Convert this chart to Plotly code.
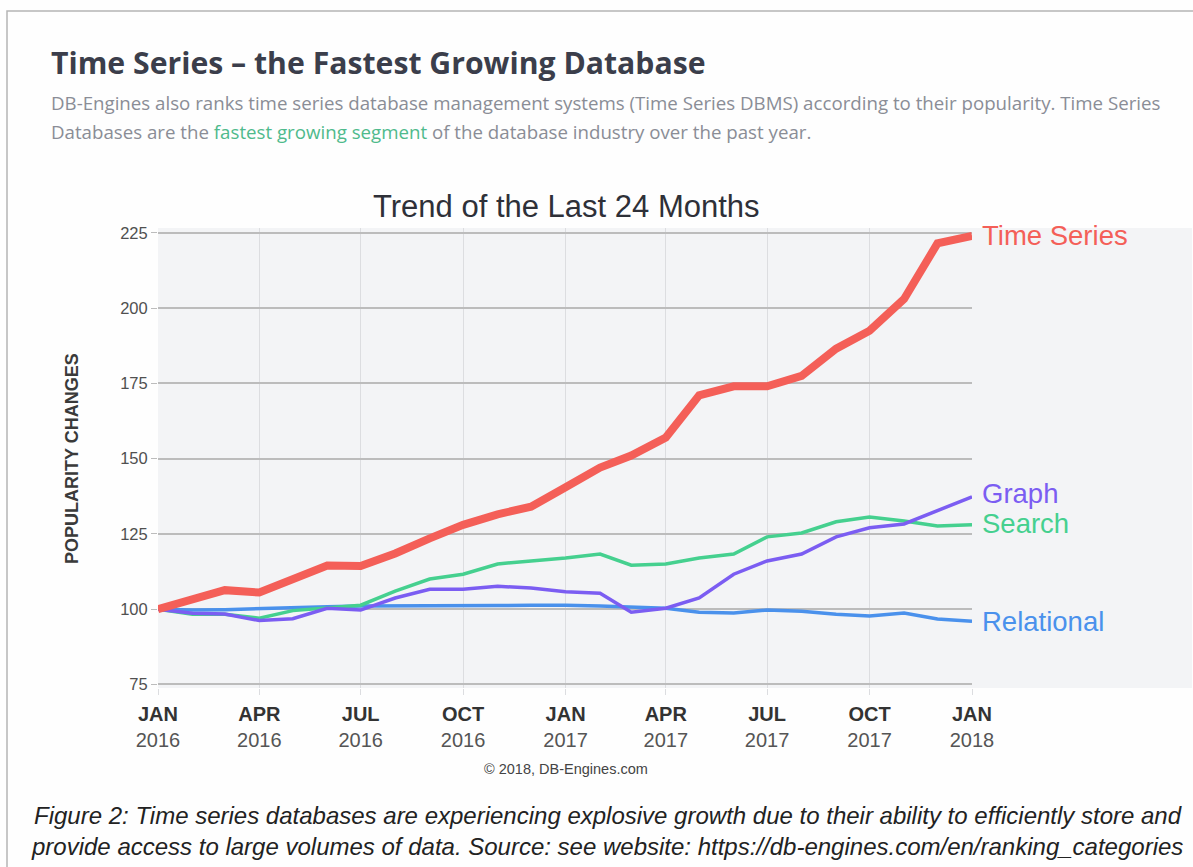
import plotly.graph_objects as go

months = [
    "2016-01-01", "2016-02-01", "2016-03-01", "2016-04-01", "2016-05-01", "2016-06-01",
    "2016-07-01", "2016-08-01", "2016-09-01", "2016-10-01", "2016-11-01", "2016-12-01",
    "2017-01-01", "2017-02-01", "2017-03-01", "2017-04-01", "2017-05-01", "2017-06-01",
    "2017-07-01", "2017-08-01", "2017-09-01", "2017-10-01", "2017-11-01", "2017-12-01",
    "2018-01-01",
]

time_series = [100, 103, 106.3, 105.5, 110, 114.5, 114.3, 118.5, 123.5, 128, 131.5, 134,
               140.5, 147, 151, 157, 171, 174, 174, 177.5, 186.5, 192.5, 203, 221.5, 224]
graph = [100, 98.6, 98.4, 96.2, 96.8, 100.3, 99.7, 103.7, 106.6, 106.6, 107.6, 107,
         105.8, 105.3, 99, 100.3, 103.7, 111.6, 116, 118.3, 124, 127, 128.3, 132.6, 137.3]
search = [100, 98.3, 98.3, 97, 99.5, 100.5, 101.3, 106, 110, 111.6, 115, 116,
          117, 118.3, 114.6, 115, 117, 118.3, 124, 125.3, 129, 130.6, 129.3, 127.6, 128]
relational = [100, 99.7, 99.8, 100.2, 100.5, 100.8, 101, 101, 101, 101, 101.2, 101.3,
              101.3, 101, 100.8, 100.3, 99, 98.7, 99.7, 99.3, 98.3, 97.7, 98.7, 96.7, 96]

series_names = ["Time Series", "Graph", "Search", "Relational"]
series_values = [time_series, graph, search, relational]
series_colors = ["#f45f58", "#7b5df2", "#45d08f", "#4a91ec"]
series_widths = [8, 3.5, 3.5, 3.5]
label_yshift = [0, 3, 1, 0]

tick_dates = ["2016-01-01", "2016-04-01", "2016-07-01", "2016-10-01", "2017-01-01",
              "2017-04-01", "2017-07-01", "2017-10-01", "2018-01-01"]
tick_months = ["JAN", "APR", "JUL", "OCT", "JAN", "APR", "JUL", "OCT", "JAN"]
tick_years = ["2016", "2016", "2016", "2016", "2017", "2017", "2017", "2017", "2018"]
y_ticks = [75, 100, 125, 150, 175, 200, 225]

W, H = 1193, 867
L, R, T, B = 158, 972, 228, 688
PW, PH = R - L, B - T


def px(x):
    return (x - L) / PW


def py(y):
    return (B - y) / PH


fig = go.Figure()
# draw order: relational, search, graph, time series on top
for i in [3, 2, 1, 0]:
    fig.add_trace(go.Scatter(
        x=months, y=series_values[i], mode="lines", name=series_names[i],
        line=dict(color=series_colors[i], width=series_widths[i]),
        hoverinfo="skip", showlegend=False,
    ))

annotations = []
for name, vals, col, ys in zip(series_names, series_values, series_colors, label_yshift):
    annotations.append(dict(
        x=months[-1], y=vals[-1], xref="x", yref="y", text=name, showarrow=False,
        xanchor="left", yanchor="middle", xshift=8, yshift=ys,
        font=dict(family="Liberation Sans, Arial", size=27.5, color=col),
    ))

annotations += [
    dict(x=px(49), y=py(62), xref="paper", yref="paper", xanchor="left", yanchor="middle",
         showarrow=False, text="<b>Time Series – the Fastest Growing Database</b>",
         font=dict(family="Open Sans", size=30.2, color="#3b3e4b")),
    dict(x=px(49), y=py(103), xref="paper", yref="paper", xanchor="left", yanchor="middle",
         showarrow=False,
         text="DB-Engines also ranks time series database management systems (Time Series DBMS) according to their popularity. Time Series",
         font=dict(family="Open Sans", size=18.7, color="#8a8d96")),
    dict(x=px(49), y=py(131), xref="paper", yref="paper", xanchor="left", yanchor="middle",
         showarrow=False,
         text="Databases are the <span style='color:#4fba8c'>fastest growing segment</span> of the database industry over the past year.",
         font=dict(family="Open Sans", size=18.7, color="#8a8d96")),
    dict(x=px(566), y=py(206), xref="paper", yref="paper", xanchor="center", yanchor="middle",
         showarrow=False, text="Trend of the Last 24 Months",
         font=dict(family="Liberation Sans, Arial", size=31, color="#2e3038")),
    dict(x=px(72), y=py(459), xref="paper", yref="paper", xanchor="center", yanchor="middle",
         showarrow=False, text="<b>POPULARITY CHANGES</b>", textangle=-90,
         font=dict(family="Liberation Sans, Arial", size=18, color="#3a3a3a")),
    dict(x=px(566), y=py(769), xref="paper", yref="paper", xanchor="center", yanchor="middle",
         showarrow=False, text="© 2018, DB-Engines.com",
         font=dict(family="Liberation Sans, Arial", size=14.5, color="#444444")),
    dict(x=px(608), y=py(815), xref="paper", yref="paper", xanchor="center", yanchor="middle",
         showarrow=False,
         text="<i>Figure 2: Time series databases are experiencing explosive growth due to their ability to efficiently store and</i>",
         font=dict(family="Liberation Sans, Arial", size=24, color="#222222")),
    dict(x=px(607), y=py(846), xref="paper", yref="paper", xanchor="center", yanchor="middle",
         showarrow=False,
         text="<i>provide access to large volumes of data. Source: see website: https://db-engines.com/en/ranking_categories</i>",
         font=dict(family="Liberation Sans, Arial", size=24, color="#222222")),
]

shapes = [
    # grey extension of the plot background to the right
    dict(type="rect", xref="paper", yref="paper", x0=1.0, x1=px(1192), y0=0, y1=1,
         fillcolor="#f3f4f6", line=dict(width=0), layer="below"),
    # outer frame
    dict(type="rect", xref="paper", yref="paper", x0=px(7), x1=px(1200), y0=py(11), y1=py(900),
         fillcolor="rgba(0,0,0,0)", line=dict(color="#b5b5b5", width=1.5), layer="below"),
]

fig.update_layout(
    width=W, height=H,
    margin=dict(l=L, r=W - R, t=T, b=H - B, pad=0),
    paper_bgcolor="#fefefe", plot_bgcolor="#f3f4f6",
    annotations=annotations, shapes=shapes,
    font=dict(family="Liberation Sans, Arial"),
)
fig.update_xaxes(
    type="date", range=["2016-01-01", "2018-01-01"],
    tickvals=tick_dates,
    ticktext=[f"<b>{m}</b><br><span style='color:#555555'>{y}</span>" for m, y in zip(tick_months, tick_years)],
    tickfont=dict(family="Liberation Sans, Arial", size=20, color="#333333"),
    ticklabelstandoff=2,
    showgrid=True, gridcolor="#dcdde0", gridwidth=1,
    ticks="outside", ticklen=6, tickcolor="#dcdde0", showline=False, zeroline=False,
)
fig.update_yaxes(
    range=[73.8, 226.6], tickvals=y_ticks,
    tickfont=dict(family="Liberation Sans, Arial", size=16.5, color="#505050"),
    showgrid=True, gridcolor="#bcbcbc", gridwidth=1.5,
    ticks="outside", ticklen=6, tickcolor="#bcbcbc", showline=False, zeroline=False,
)

fig.write_html("out.html", config={"displayModeBar": False},
               post_script="document.body.style.margin='0';document.body.style.overflow='hidden';")
